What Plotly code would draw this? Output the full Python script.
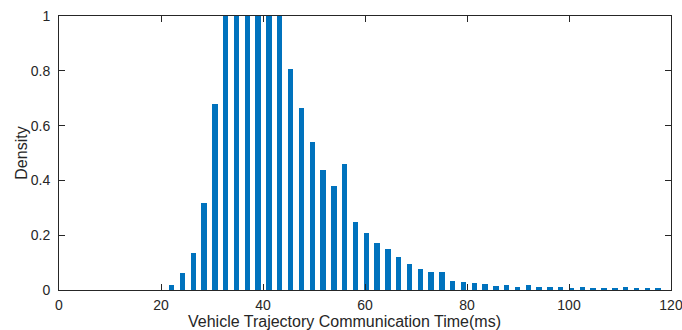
import plotly.graph_objects as go

# Histogram bin centres (ms) and normalised density per bin
bin_centers = [
    22.10, 24.22, 26.34, 28.46, 30.58, 32.70, 34.81, 36.93, 39.05, 41.17,
    43.29, 45.41, 47.53, 49.65, 51.77, 53.89, 56.00, 58.12, 60.24, 62.36,
    64.48, 66.60, 68.72, 70.84, 72.96, 75.08, 77.19, 79.31, 81.43, 83.55,
    85.67, 87.79, 89.91, 92.03, 94.15, 96.27, 98.38, 100.50, 102.62, 104.74,
    106.86, 108.98, 111.10, 113.22, 115.34, 117.46,
]
density = [
    0.019, 0.061, 0.134, 0.317, 0.679, 1.0, 1.0, 1.0, 1.0, 1.0,
    1.0, 0.806, 0.666, 0.540, 0.437, 0.380, 0.460, 0.247, 0.207, 0.172,
    0.148, 0.121, 0.094, 0.075, 0.065, 0.066, 0.033, 0.029, 0.024, 0.021,
    0.016, 0.017, 0.011, 0.017, 0.012, 0.011, 0.012, 0.008, 0.011, 0.008,
    0.006, 0.005, 0.010, 0.004, 0.004, 0.004,
]

x_ticks = [0, 20, 40, 60, 80, 100, 120]
y_ticks = [0, 0.2, 0.4, 0.6, 0.8, 1]
y_tick_labels = ["0", "0.2", "0.4", "0.6", "0.8", "1"]

x_title = "Vehicle Trajectory Communication Time(ms)"
y_title = "Density"

axis_color = "#262626"
font_family = "Liberation Sans, Arial, sans-serif"

fig = go.Figure(
    go.Bar(
        x=bin_centers,
        y=density,
        width=1.06,
        marker=dict(color="#0072BD", line=dict(width=0)),
    )
)

axis_common = dict(
    showline=True,
    linecolor=axis_color,
    linewidth=1,
    mirror="ticks",
    ticks="inside",
    ticklen=6,
    tickwidth=1,
    tickcolor=axis_color,
    showgrid=False,
    zeroline=False,
    automargin=False,
    ticklabeloverflow="allow",
    tickfont=dict(family=font_family, size=14, color=axis_color),
)

fig.update_xaxes(
    range=[0, 120],
    tickvals=x_ticks,
    ticktext=[str(v) for v in x_ticks],
    ticklabelstandoff=2,
    **axis_common,
)
fig.update_yaxes(
    range=[0, 1],
    tickvals=y_ticks,
    ticktext=y_tick_labels,
    ticklabelstandoff=5,
    **axis_common,
)

title_font = dict(family=font_family, size=16, color=axis_color)
fig.add_annotation(
    text=x_title, xref="paper", yref="paper", x=0.467, y=-0.1157,
    xanchor="center", yanchor="middle", showarrow=False, font=title_font,
)
fig.add_annotation(
    text=y_title, xref="paper", yref="paper", x=-0.0626, y=0.5,
    xanchor="center", yanchor="middle", textangle=-90, showarrow=False,
    font=title_font,
)

fig.update_layout(
    width=682,
    height=330,
    margin=dict(l=59, r=11, t=16, b=40),
    paper_bgcolor="white",
    plot_bgcolor="white",
    showlegend=False,
    bargap=0,
)

fig.write_html("out.html")
